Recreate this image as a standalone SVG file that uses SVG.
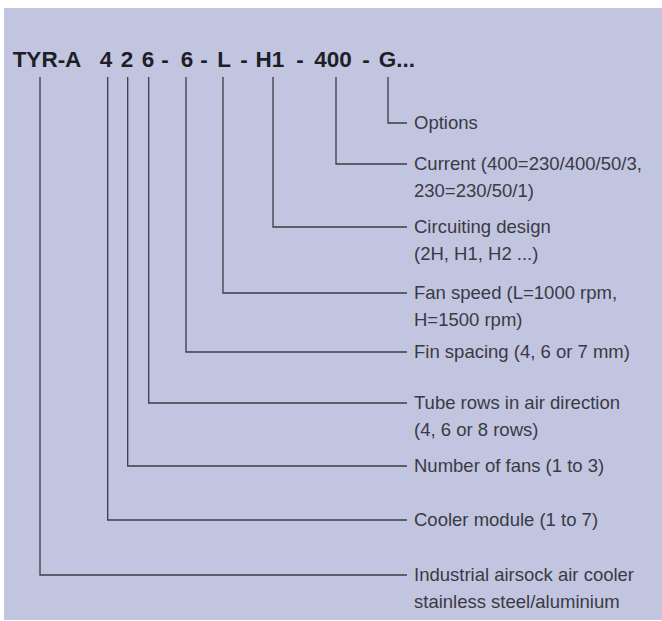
<svg xmlns="http://www.w3.org/2000/svg" width="662" height="621" viewBox="0 0 662 621">
<style>
.bg{fill:#c1c5e0}
.t{font-family:"Liberation Sans",Arial,sans-serif;font-weight:bold;font-size:22.5px;fill:#1e1e26;text-anchor:middle}
.l{font-family:"Liberation Sans",Arial,sans-serif;font-size:18.5px;fill:#3a3a44}
.c{fill:none;stroke:#3c3c46;stroke-width:1.3}
</style>
<rect class="bg" x="4" y="8" width="658" height="612"/>
<g id="code">
<text class="t" x="47" y="67">TYR-A</text>
<text class="t" x="106" y="67">4</text>
<text class="t" x="127" y="67">2</text>
<text class="t" x="148" y="67">6</text>
<text class="t" x="165" y="67">-</text>
<text class="t" x="187" y="67">6</text>
<text class="t" x="204" y="67">-</text>
<text class="t" x="224" y="67">L</text>
<text class="t" x="244" y="67">-</text>
<text class="t" x="270" y="67">H1</text>
<text class="t" x="300" y="67">-</text>
<text class="t" x="333" y="67">400</text>
<text class="t" x="366" y="67">-</text>
<text class="t" x="397" y="67">G...</text>
</g>
<g id="connectors">
<path class="c" d="M388 77V123H407"/>
<path class="c" d="M336 77V164H407"/>
<path class="c" d="M273 77V227H407"/>
<path class="c" d="M223 77V293H407"/>
<path class="c" d="M186 77V352H407"/>
<path class="c" d="M148.7 77V403H407"/>
<path class="c" d="M127.7 77V466H407"/>
<path class="c" d="M107.7 77V520H407"/>
<path class="c" d="M40 77V575H407"/>
</g>
<g id="options"><text class="l" x="414" y="129">Options</text></g>
<g id="current"><text class="l" x="414" y="170">Current (400=230/400/50/3,</text><text class="l" x="414" y="197">230=230/50/1)</text></g>
<g id="circuiting"><text class="l" x="414" y="233">Circuiting design</text><text class="l" x="414" y="260">(2H, H1, H2 ...)</text></g>
<g id="fanspeed"><text class="l" x="414" y="299">Fan speed (L=1000 rpm,</text><text class="l" x="414" y="326">H=1500 rpm)</text></g>
<g id="finspacing"><text class="l" x="414" y="358">Fin spacing (4, 6 or 7 mm)</text></g>
<g id="tuberows"><text class="l" x="414" y="409">Tube rows in air direction</text><text class="l" x="414" y="436">(4, 6 or 8 rows)</text></g>
<g id="fans"><text class="l" x="414" y="472">Number of fans (1 to 3)</text></g>
<g id="module"><text class="l" x="414" y="526">Cooler module (1 to 7)</text></g>
<g id="type"><text class="l" x="414" y="581">Industrial airsock air cooler</text><text class="l" x="414" y="608">stainless steel/aluminium</text></g>
</svg>
